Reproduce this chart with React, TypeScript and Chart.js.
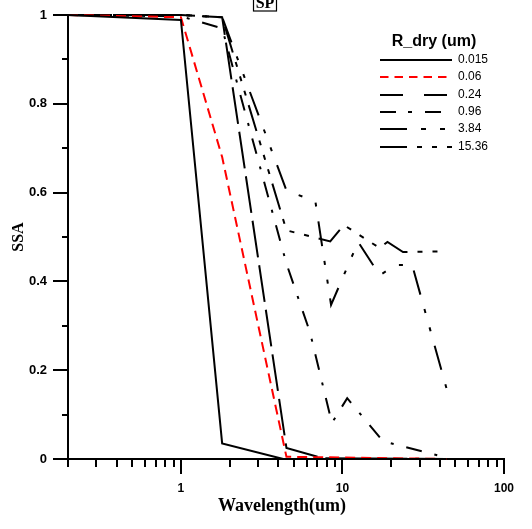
import React, { useEffect, useRef } from 'react';
import { Chart, registerables } from 'chart.js';

Chart.register(...registerables);

// ---- data ----
const SIZE_LABELS = ['0.015', '0.06', '0.24', '0.96', '3.84', '15.36'];

const WL_0015 = [0.2, 1.0, 1.8, 4.3, 44];
const SSA_0015 = [1.0, 0.989, 0.035, 0.0, 0.0];

const WL_006 = [0.2, 1.0, 1.8, 4.5, 44];
const SSA_006 = [1.0, 0.995, 0.68, 0.005, 0.0];

const WL_024 = [0.2, 1.0, 1.8, 4.5, 7.5, 44];
const SSA_024 = [1.0, 1.0, 0.995, 0.025, 0.002, 0.0];

const WL_096 = [0.2, 1.0, 1.8, 4.5, 6.3, 8.6, 10.7, 17.8, 44];
const SSA_096 = [1.0, 0.997, 0.97, 0.44, 0.285, 0.081, 0.137, 0.04, 0.003];

const WL_384 = [0.2, 1.0, 1.8, 4.5, 6.8, 8.5, 12.5, 17, 21.5, 27, 44];
const SSA_384 = [1.0, 1.0, 0.995, 0.605, 0.58, 0.347, 0.489, 0.414, 0.437, 0.437, 0.16];

const WL_1536 = [0.2, 1.0, 1.8, 4.5, 8.4, 10.2, 17, 19, 23.7, 44];
const SSA_1536 = [1.0, 1.0, 0.995, 0.515, 0.49, 0.527, 0.475, 0.489, 0.466, 0.468];

const X_LABELS = [1, 10, 100];
const Y_LABELS = [0, 0.2, 0.4, 0.6, 0.8, 1];

const WLS = [WL_0015, WL_006, WL_024, WL_096, WL_384, WL_1536];
const SSAS = [SSA_0015, SSA_006, SSA_024, SSA_096, SSA_384, SSA_1536];

// ---- styles ----
const COLORS = ['#000000', '#ff0000', '#000000', '#000000', '#000000', '#000000'];
const PLOT_DASH = [[], [10, 6], [37, 8], [16, 13, 3, 13], [25, 15, 4, 15, 4, 15], [27, 10, 5, 10, 5, 10, 5, 10]];
const LEGEND_DASH = [[], [8.5, 6], [23, 21], [16, 12, 4, 13], [27, 14, 5, 14, 5, 14], [27, 10, 5, 10, 5, 10, 5, 10]];

const SANS = '"Liberation Sans", Arial, sans-serif';
const SERIF = '"Liberation Serif", "Times New Roman", serif';

const isDecade = (v: number) => {
  const l = Math.log10(v);
  return Math.abs(l - Math.round(l)) < 1e-6;
};

const decor = {
  id: 'decor',
  afterDraw(chart: any) {
    const ctx = chart.ctx as CanvasRenderingContext2D;
    const xs = chart.scales.x;
    const ys = chart.scales.y;
    const a = chart.chartArea;
    ctx.save();
    ctx.strokeStyle = '#000';
    ctx.fillStyle = '#000';
    ctx.lineWidth = 2;
    ctx.lineCap = 'butt';
    ctx.setLineDash([]);

    // x tick marks (log minor + major)
    const xTicks: number[] = [];
    for (const d of [0.1, 1, 10]) {
      for (let k = 1; k <= 9; k++) {
        const v = k * d;
        if (v >= 0.2 - 1e-9 && v <= 100) xTicks.push(v);
      }
    }
    xTicks.push(100);
    for (const v of xTicks) {
      const px = Math.round(xs.getPixelForValue(v));
      const len = isDecade(v) ? 15 : 8;
      ctx.beginPath();
      ctx.moveTo(px, a.bottom);
      ctx.lineTo(px, a.bottom + len);
      ctx.stroke();
    }
    // y tick marks
    for (let i = 0; i <= 10; i++) {
      const py = Math.round(ys.getPixelForValue(i / 10));
      const len = i % 2 === 0 ? 15 : 6;
      ctx.beginPath();
      ctx.moveTo(a.left, py);
      ctx.lineTo(a.left - len, py);
      ctx.stroke();
    }

    // axis titles
    ctx.font = `bold 18px ${SERIF}`;
    ctx.textAlign = 'center';
    ctx.textBaseline = 'alphabetic';
    ctx.fillText('Wavelength(um)', 282, 511);

    ctx.save();
    ctx.translate(23, 237);
    ctx.rotate(-Math.PI / 2);
    ctx.font = `bold 16px ${SERIF}`;
    ctx.fillText('SSA', 0, 0);
    ctx.restore();

    // boxed title at the top (cut off by the frame)
    ctx.lineWidth = 1.2;
    ctx.strokeRect(253.5, -6, 23, 17);
    ctx.font = `bold 16px ${SERIF}`;
    ctx.textAlign = 'center';
    ctx.fillText('SP', 265, 8);

    // legend
    ctx.font = `bold 16px ${SANS}`;
    ctx.textAlign = 'center';
    ctx.textBaseline = 'middle';
    ctx.fillText('R_dry (um)', 434, 42);
    ctx.font = `12px ${SANS}`;
    ctx.textAlign = 'left';
    ctx.lineWidth = 2;
    SIZE_LABELS.forEach((lab, i) => {
      const y = Math.round(60 + i * 17.3);
      ctx.strokeStyle = COLORS[i];
      ctx.setLineDash(LEGEND_DASH[i]);
      ctx.beginPath();
      ctx.moveTo(380, y);
      ctx.lineTo(452, y);
      ctx.stroke();
      ctx.fillStyle = '#000';
      ctx.fillText(lab, 458, y);
    });
    ctx.restore();
  },
};

export default function App() {
  const ref = useRef<HTMLCanvasElement | null>(null);

  useEffect(() => {
    if (!ref.current) return;
    const datasets = SIZE_LABELS.map((lab, i) => ({
      label: lab,
      data: WLS[i].map((w, j) => ({ x: w, y: SSAS[i][j] })),
      borderColor: COLORS[i],
      backgroundColor: COLORS[i],
      borderWidth: 2,
      borderDash: PLOT_DASH[i],
      pointRadius: 0,
      fill: false,
      tension: 0,
      clip: 4,
    }));
    const chart = new Chart(ref.current, {
      type: 'line',
      data: { datasets },
      options: {
        responsive: false,
        animation: false,
        devicePixelRatio: 1,
        layout: { padding: { left: 0, top: 15, right: 28, bottom: 0 } },
        plugins: { legend: { display: false }, tooltip: { enabled: false } },
        scales: {
          x: {
            type: 'logarithmic',
            min: 0.2,
            max: 100,
            grid: { display: true, drawOnChartArea: false, drawTicks: true, tickLength: 22, tickColor: 'rgba(0,0,0,0)' },
            border: { display: true, color: '#000', width: 2 },
            ticks: {
              autoSkip: false,
              maxRotation: 0,
              padding: 0,
              color: '#000',
              font: { family: SANS, size: 12, weight: 'bold' as const },
              callback: (v: any) => {
                const n = Number(v);
                const hit = X_LABELS.find((t) => Math.abs(t - n) < 1e-6 * t);
                return hit !== undefined ? String(hit) : '';
              },
            },
            afterFit: (s: any) => {
              s.height = 70;
            },
          },
          y: {
            type: 'linear',
            min: 0,
            max: 1,
            grid: { display: true, drawOnChartArea: false, drawTicks: true, tickLength: 21, tickColor: 'rgba(0,0,0,0)' },
            border: { display: true, color: '#000', width: 2 },
            ticks: {
              stepSize: 0.2,
              padding: 0,
              color: '#000',
              font: { family: SANS, size: 13, weight: 'bold' as const },
              callback: (v: any) => {
                const n = Math.round(Number(v) * 10) / 10;
                return Y_LABELS.includes(n) ? String(n) : '';
              },
            },
            afterFit: (s: any) => {
              s.width = 68;
            },
          },
        },
      },
      plugins: [decor],
    } as any);
    return () => chart.destroy();
  }, []);

  return (
    <div style={{ position: 'fixed', left: 0, top: 0, width: 532, height: 529, background: '#fff' }}>
      <canvas ref={ref} width={532} height={529} style={{ display: 'block' }} />
    </div>
  );
}
